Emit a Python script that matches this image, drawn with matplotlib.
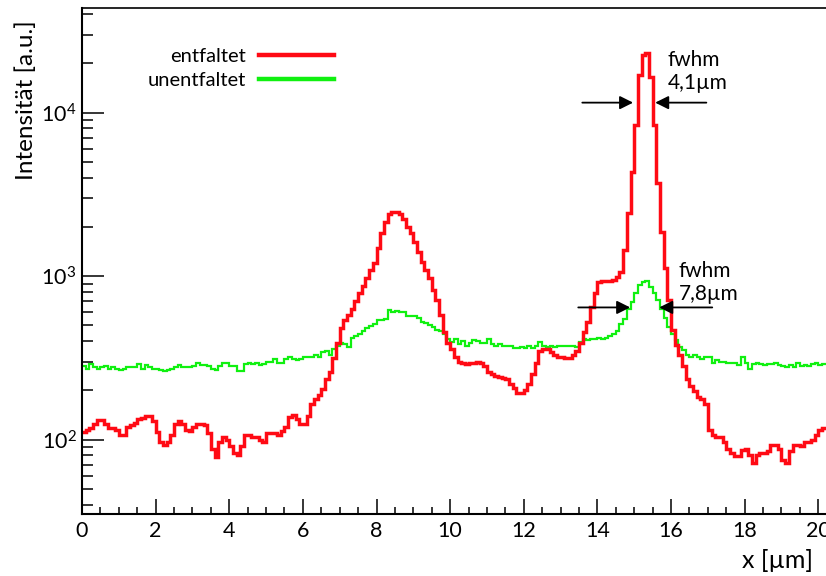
import numpy as np
import matplotlib
matplotlib.use("Agg")
import matplotlib.pyplot as plt

# histogram binning (µm)
x_start = 0.0
bin_w = 0.1

# deconvolved profile ("entfaltet")
red_vals = [
    112, 115, 118, 124, 131, 131, 125, 117, 117, 115,
    107, 107, 120, 122, 127, 133, 136, 140, 140, 129,
    112, 97, 93, 97, 107, 124, 129, 124, 115, 113,
    120, 124, 124, 122, 110, 87, 78, 96, 104, 100,
    91, 83, 81, 91, 107, 106, 104, 104, 99, 97,
    109, 110, 109, 106, 113, 120, 138, 142, 134, 125,
    124, 140, 164, 176, 186, 205, 236, 260, 317, 392,
    484, 542, 574, 633, 708, 792, 875, 979, 1096, 1210,
    1495, 1847, 2154, 2412, 2479, 2479, 2412, 2246, 2009, 1847,
    1627, 1413, 1227, 1096, 979, 826, 718, 582, 458, 392,
    356, 322, 300, 292, 288, 292, 296, 300, 296, 280,
    260, 250, 246, 243, 239, 233, 220, 208, 194, 194,
    202, 220, 250, 296, 346, 356, 356, 341, 327, 322,
    322, 317, 317, 327, 346, 392, 458, 527, 643, 792,
    925, 938, 938, 938, 952, 993, 1066, 1454, 2445, 4358,
    8447, 17080, 22650, 23300, 16580, 8447, 3733, 1872, 1128, 718,
    471, 381, 331, 280, 233, 214, 197, 181, 176, 164,
    115, 107, 103, 103, 96, 87, 83, 79, 79, 86,
    87, 81, 72, 81, 83, 83, 85, 92, 93, 87,
    75, 72, 85, 93, 92, 91, 96, 96, 100, 107,
    115, 118, 118,
]

# raw profile ("unentfaltet")
green_vals = [
    280, 272, 288, 276, 272, 276, 280, 272, 276, 272,
    268, 272, 276, 276, 276, 288, 272, 284, 276, 272,
    272, 268, 264, 268, 272, 276, 284, 276, 276, 276,
    280, 296, 284, 284, 280, 272, 268, 280, 292, 292,
    280, 280, 264, 261, 288, 296, 288, 296, 284, 288,
    300, 300, 309, 296, 296, 313, 322, 313, 305, 309,
    318, 318, 322, 331, 322, 341, 346, 331, 356, 371,
    387, 382, 366, 421, 427, 440, 459, 478, 492, 506,
    535, 535, 543, 616, 599, 608, 599, 599, 566, 566,
    566, 558, 521, 513, 499, 485, 465, 459, 440, 410,
    393, 410, 382, 398, 376, 387, 404, 398, 387, 387,
    410, 382, 371, 382, 371, 371, 371, 361, 361, 366,
    361, 371, 361, 371, 393, 371, 366, 371, 366, 376,
    376, 371, 371, 371, 366, 393, 410, 404, 410, 415,
    421, 415, 421, 427, 440, 459, 506, 543, 625, 690,
    792, 887, 925, 938, 862, 792, 718, 625, 558, 485,
    440, 404, 366, 351, 331, 322, 331, 318, 313, 322,
    322, 296, 305, 300, 300, 292, 296, 292, 284, 318,
    296, 272, 288, 296, 288, 284, 288, 288, 292, 284,
    280, 276, 284, 276, 292, 280, 284, 280, 288, 292,
    284, 288, 288,
]

labels = ["entfaltet", "unentfaltet"]

plt.rcParams["font.family"] = ["Lato", "DejaVu Sans"]
plt.rcParams["mathtext.fontset"] = "custom"
plt.rcParams["mathtext.rm"] = "Lato"
plt.rcParams["mathtext.it"] = "Lato"

fig = plt.figure(figsize=(8.26, 5.76), dpi=100)
ax = fig.add_axes([0.0993, 0.1068, 0.9007, 0.8793])

edges = x_start + bin_w * np.arange(len(red_vals) + 1)
ax.stairs(green_vals, edges, baseline=None, color="#10f010", lw=1.6,
          label=labels[1])
ax.stairs(red_vals, edges, baseline=None, color="#ff0a14", lw=2.5,
          label=labels[0])

ax.set_yscale("log")
ax.set_xlim(0, 20.21)
ax.set_ylim(34.8, 43650)

ax.xaxis.set_major_locator(matplotlib.ticker.MultipleLocator(2))
ax.xaxis.set_minor_locator(matplotlib.ticker.MultipleLocator(0.5))
ax.yaxis.set_major_locator(matplotlib.ticker.LogLocator(base=10))
ax.yaxis.set_minor_locator(matplotlib.ticker.LogLocator(base=10, subs=np.arange(2, 10)))
ax.yaxis.set_minor_formatter(matplotlib.ticker.NullFormatter())

ax.tick_params(axis="both", which="both", direction="in", top=False, right=False,
               width=1.1, labelsize=15.5)
ax.tick_params(axis="x", which="major", length=11, pad=5)
ax.tick_params(axis="x", which="minor", length=5)
ax.tick_params(axis="y", which="major", length=16, pad=4)
ax.tick_params(axis="y", which="minor", length=8)

for side in ["left", "bottom"]:
    ax.spines[side].set_linewidth(1.5)
ax.spines["top"].set_linewidth(1.2)
ax.spines["right"].set_visible(False)

# legend: text left of the line sample
handles, labs = ax.get_legend_handles_labels()
leg = ax.legend(handles[::-1], labs[::-1], loc="upper left",
                bbox_to_anchor=(0.0887, 0.922), frameon=False, markerfirst=False,
                fontsize=14.5, handlelength=3.7, handletextpad=0.65,
                labelspacing=0.35, borderpad=0, borderaxespad=0)
for h in leg.legend_handles:
    h.set_linewidth(3.2)

# fwhm markers
arrow = dict(arrowstyle="-|>", color="black", lw=1.3, mutation_scale=20,
             shrinkA=0, shrinkB=0)
ax.annotate("", xy=(14.97, 11510), xytext=(13.59, 11510), arrowprops=arrow)
ax.annotate("", xy=(15.57, 11510), xytext=(16.96, 11510), arrowprops=arrow)
ax.text(15.9, 17820, "fwhm\n4,1µm", ha="left", va="center", fontsize=15,
        linespacing=1.2)

ax.annotate("", xy=(14.89, 643), xytext=(13.48, 643), arrowprops=arrow)
ax.annotate("", xy=(15.68, 643), xytext=(17.12, 643), arrowprops=arrow)
ax.text(16.2, 912, "fwhm\n7,8µm", ha="left", va="center", fontsize=15,
        linespacing=1.2)

fig.text(26 / 826, 1 - 100 / 576, "Intensität [a.u.]", rotation=90,
         ha="center", va="center", fontsize=17.5)
fig.text(813 / 826, 1 - 560 / 576, "x [µm]", ha="right", va="center", fontsize=18)

fig.savefig("out.png", dpi=100)
